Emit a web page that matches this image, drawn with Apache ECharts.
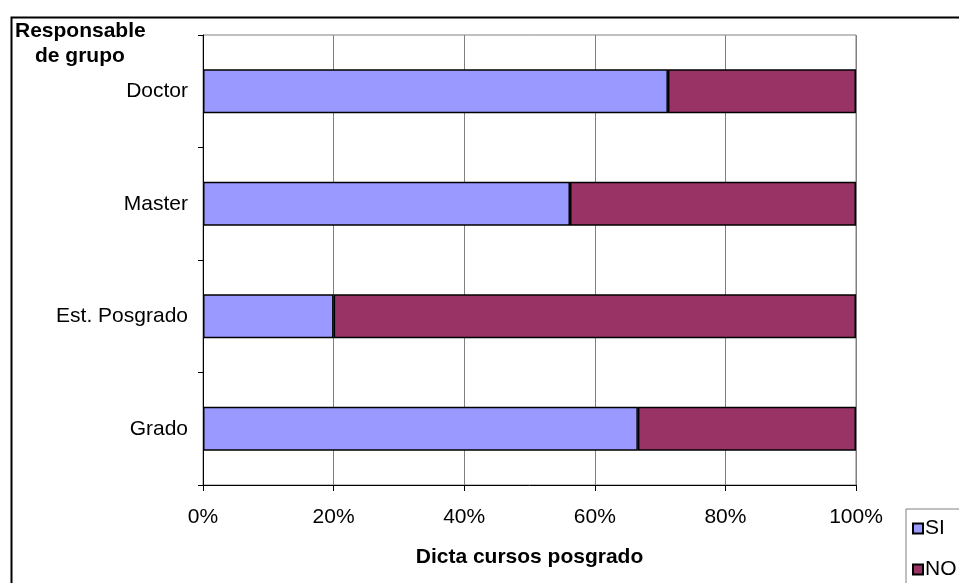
<!DOCTYPE html>
<html>
<head>
<meta charset="utf-8">
<script src="https://cdn.jsdelivr.net/npm/echarts@6/dist/echarts.min.js"></script>
<style>
  html, body { margin: 0; padding: 0; background: #fff; }
  #chart { width: 959px; height: 583px; }
</style>
</head>
<body>
<div id="chart"></div>
<script>
// categories from bottom to top
var categories = ['Grado', 'Est. Posgrado', 'Master', 'Doctor'];
var siValues = [66.6, 20, 56.2, 71.2];
var noValues = [33.4, 80, 43.8, 28.8];
var xTicks = [0, 20, 40, 60, 80, 100];

var fontFam = 'Arial, "Liberation Sans", sans-serif';

var chart = echarts.init(document.getElementById('chart'));
var option = {
    animation: false,
    backgroundColor: '#fff',
    textStyle: { fontFamily: fontFam },
    grid: {
        left: 203,
        right: 103,
        top: 35,
        bottom: 98,
        show: true,
        borderColor: '#808080',
        borderWidth: 1
    },
    legend: {
        orient: 'vertical',
        left: 906,
        top: 509,
        height: 120,
        padding: [9, 40, 10, 6],
        itemGap: 20,
        itemWidth: 10,
        itemHeight: 10,
        borderColor: '#808080',
        borderWidth: 1,
        icon: 'rect',
        data: ['SI', 'NO'],
        textStyle: { fontSize: 21, color: '#000', padding: [0, 0, 0, -3], fontFamily: fontFam }
    },
    xAxis: {
        type: 'value',
        min: 0,
        max: 100,
        interval: 20,
        name: 'Dicta cursos posgrado',
        nameLocation: 'middle',
        nameGap: 62,
        nameTextStyle: { fontSize: 21, fontWeight: 'bold', color: '#000', fontFamily: fontFam },
        axisLine: { show: true, lineStyle: { color: '#000', width: 1 } },
        axisTick: { show: true, length: 6, lineStyle: { color: '#000' } },
        axisLabel: {
            margin: 22,
            fontSize: 21,
            color: '#000',
            formatter: function (v) { return xTicks.indexOf(v) >= 0 ? v + '%' : ''; }
        },
        splitLine: { show: true, lineStyle: { color: '#808080', width: 1 } }
    },
    yAxis: {
        type: 'category',
        data: categories,
        axisLine: { show: true, lineStyle: { color: '#000', width: 1 } },
        axisTick: { show: true, length: 5, lineStyle: { color: '#000' } },
        axisLabel: { margin: 15, fontSize: 21, color: '#000' },
        splitLine: { show: false }
    },
    graphic: [
        {
            type: 'rect',
            left: 9, top: 15,
            shape: { width: 960, height: 580 },
            style: { fill: 'none', stroke: '#000', lineWidth: 2 },
            silent: true
        },
        {
            type: 'text',
            left: 15, top: 21,
            style: {
                text: 'Responsable',
                font: 'bold 21px ' + fontFam,
                fill: '#000'
            }
        },
        {
            type: 'text',
            left: 35, top: 46,
            style: {
                text: 'de grupo',
                font: 'bold 21px ' + fontFam,
                fill: '#000'
            }
        }
    ],
    series: [
        {
            name: 'SI',
            type: 'bar',
            stack: 'total',
            barWidth: 44,
            data: siValues,
            itemStyle: { color: '#9999FF', borderColor: '#000', borderWidth: 1.5 }
        },
        {
            name: 'NO',
            type: 'bar',
            stack: 'total',
            barWidth: 44,
            data: noValues,
            itemStyle: { color: '#993366', borderColor: '#000', borderWidth: 1.5 }
        }
    ]
};
chart.setOption(option);
</script>
</body>
</html>
